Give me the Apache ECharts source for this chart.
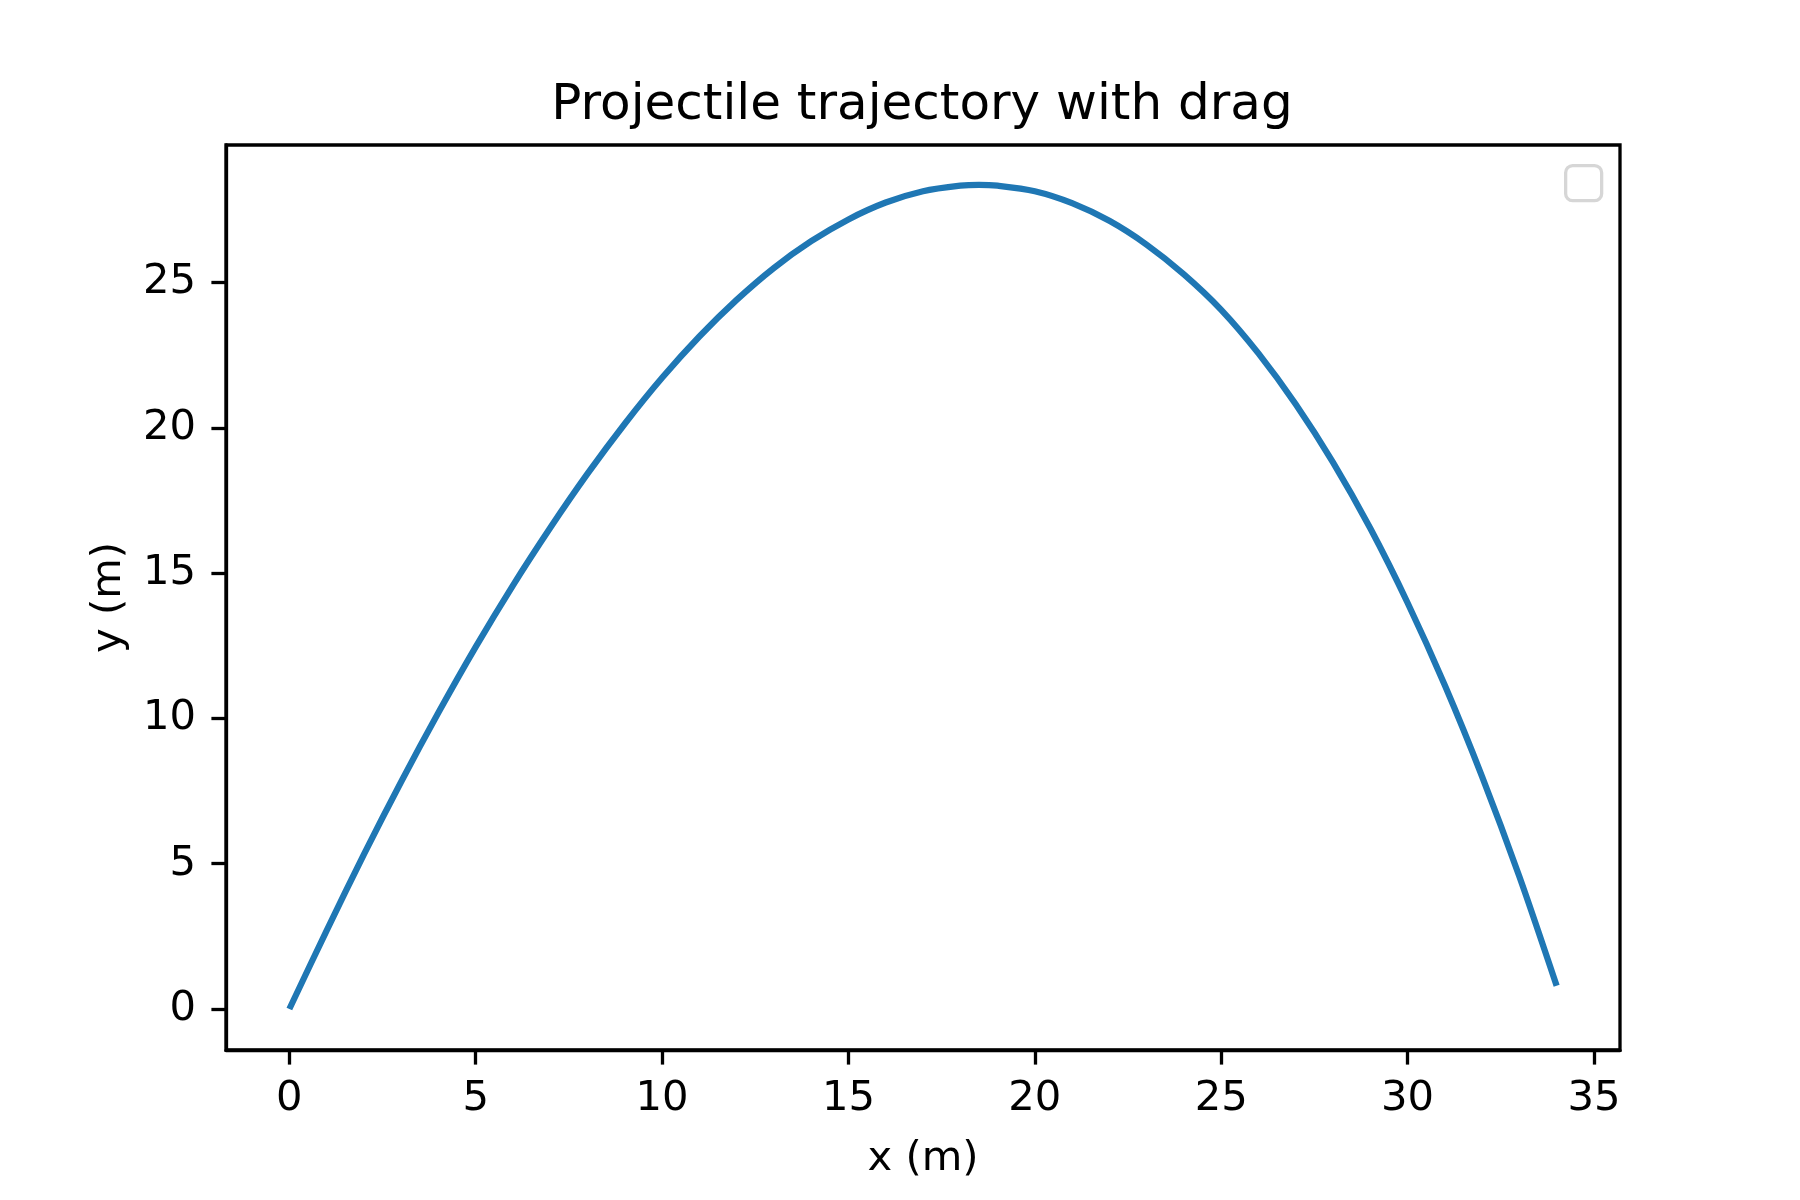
<!DOCTYPE html>
<html>
<head>
<meta charset="utf-8">
<script src="https://cdn.jsdelivr.net/npm/echarts@6/dist/echarts.min.js"></script>
<style>
  html, body { margin: 0; padding: 0; background: #fff; }
</style>
</head>
<body>
<div id="main" style="width:1800px;height:1200px;"></div>
<script>
// trajectory samples (x in m, y in m)
var xs = [0, 1, 2, 3, 4, 5, 6, 7, 8, 9, 10, 11, 12, 13, 14, 15, 16, 17, 18, 18.5,
  19, 20, 21, 22, 23, 24, 25, 26, 27, 28, 29, 30, 31, 32, 33, 34];
var ys = [0, 2.70, 5.32, 7.82, 10.20, 12.46, 14.58, 16.56, 18.42, 20.14, 21.72, 23.14,
  24.40, 25.50, 26.42, 27.17, 27.75, 28.14, 28.33, 28.36,
  28.33, 28.14, 27.73, 27.12, 26.30, 25.28, 24.06, 22.56, 20.81, 18.81, 16.54, 13.98,
  11.14, 8.00, 4.56, 0.80];
var xTicks = [0, 5, 10, 15, 20, 25, 30, 35];
var yTicks = [0, 5, 10, 15, 20, 25];

var points = [];
for (var i = 0; i < xs.length; i++) {
  points.push([xs[i], ys[i]]);
}

var font = 'DejaVu Sans';
var chart = echarts.init(document.getElementById('main'));

var option = {
  animation: false,
  backgroundColor: '#ffffff',
  title: {
    text: 'Projectile trajectory with drag',
    left: 917,
    textAlign: 'center',
    top: 76,
    textStyle: { fontFamily: font, fontSize: 50, fontWeight: 'normal', color: '#000' }
  },
  grid: {
    left: 226, right: 180, top: 145, bottom: 150,
    show: true,
    borderColor: '#000',
    borderWidth: 3.3,
    backgroundColor: 'transparent'
  },
  xAxis: {
    type: 'value',
    min: -1.7,
    max: 35.7,
    name: 'x (m)',
    nameLocation: 'middle',
    nameGap: 88,
    nameTextStyle: { fontFamily: font, fontSize: 41.7, color: '#000' },
    axisLine: { onZero: false, lineStyle: { color: '#000', width: 3.3 } },
    axisTick: { show: true, length: 14.6, customValues: xTicks, lineStyle: { color: '#000', width: 3.3 } },
    axisLabel: { customValues: xTicks, margin: 28, fontFamily: font, fontSize: 41.7, color: '#000' },
    splitLine: { show: false }
  },
  yAxis: {
    type: 'value',
    min: -1.41,
    max: 29.73,
    name: 'y (m)',
    nameLocation: 'middle',
    nameGap: 96,
    nameRotate: 90,
    nameTextStyle: { fontFamily: font, fontSize: 41.7, color: '#000' },
    axisLine: { onZero: false, lineStyle: { color: '#000', width: 3.3 } },
    axisTick: { show: true, length: 14.6, customValues: yTicks, lineStyle: { color: '#000', width: 3.3 } },
    axisLabel: { customValues: yTicks, margin: 30, fontFamily: font, fontSize: 41.7, color: '#000' },
    splitLine: { show: false }
  },
  // empty legend frame, as in the original
  graphic: [{
    type: 'rect',
    left: 1564,
    top: 164,
    shape: { width: 36, height: 35, r: 7 },
    style: { fill: '#fff', stroke: '#d6d6d6', lineWidth: 3.3 }
  }],
  series: [{
    type: 'line',
    data: points,
    showSymbol: false,
    smooth: 0.3,
    lineStyle: { color: '#1f77b4', width: 6.25 }
  }]
};

chart.setOption(option);
</script>
</body>
</html>
